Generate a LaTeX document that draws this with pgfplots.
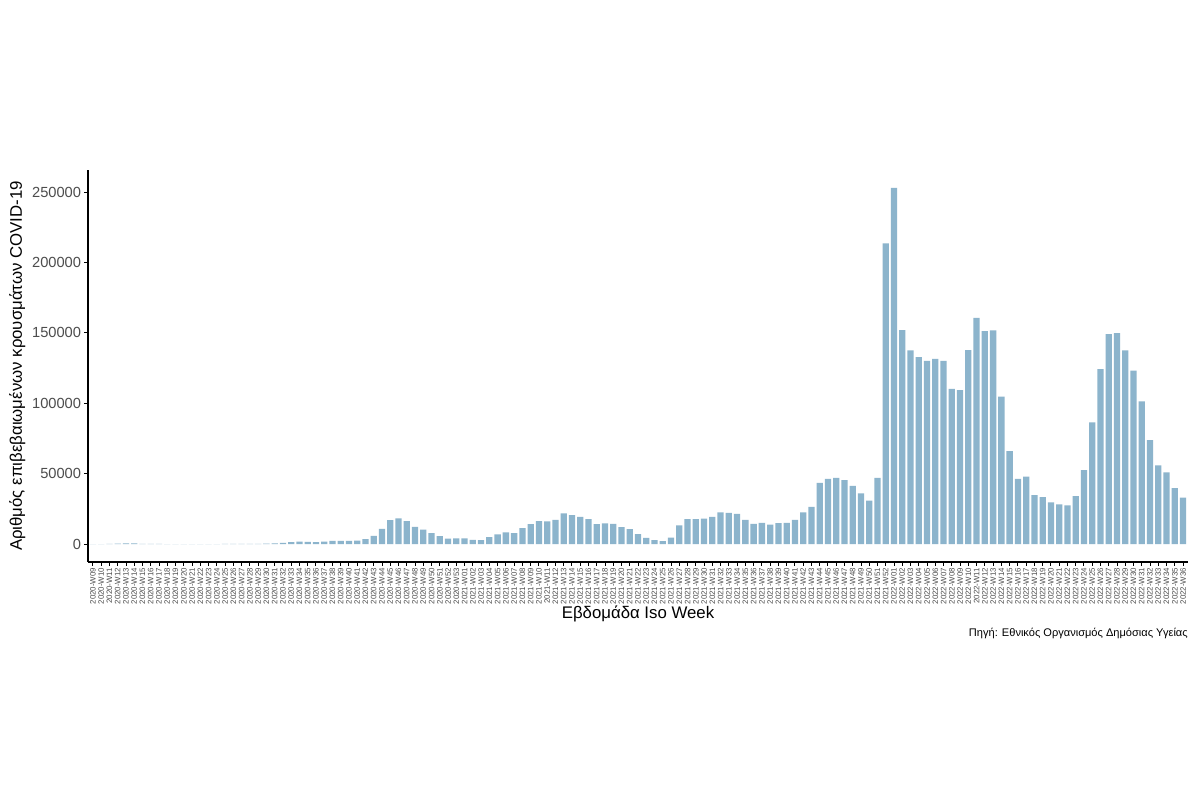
\documentclass[border=0pt]{standalone}
\usepackage{pgfplots}
\usepackage{pgfplotstable}
\pgfplotsset{compat=1.18}
\usepackage{fontspec}
\setmainfont{Liberation Sans}
\definecolor{barblue}{HTML}{8CB4CC}
\definecolor{ticklab}{HTML}{4D4D4D}
\pgfplotstableread{
week val
2020-W09 0
2020-W10 50
2020-W11 250
2020-W12 450
2020-W13 650
2020-W14 600
2020-W15 300
2020-W16 200
2020-W17 150
2020-W18 100
2020-W19 80
2020-W20 70
2020-W21 60
2020-W22 60
2020-W23 80
2020-W24 120
2020-W25 150
2020-W26 150
2020-W27 200
2020-W28 250
2020-W29 300
2020-W30 350
2020-W31 600
2020-W32 900
2020-W33 1500
2020-W34 1800
2020-W35 1600
2020-W36 1500
2020-W37 1800
2020-W38 2300
2020-W39 2400
2020-W40 2400
2020-W41 2500
2020-W42 3500
2020-W43 5900
2020-W44 10900
2020-W45 17000
2020-W46 18400
2020-W47 16400
2020-W48 12300
2020-W49 10300
2020-W50 7800
2020-W51 5700
2020-W52 3900
2020-W53 4200
2021-W01 4100
2021-W02 3100
2021-W03 2800
2021-W04 5000
2021-W05 6900
2021-W06 8300
2021-W07 7800
2021-W08 11400
2021-W09 14200
2021-W10 16300
2021-W11 16100
2021-W12 17300
2021-W13 21800
2021-W14 20600
2021-W15 19400
2021-W16 17800
2021-W17 14200
2021-W18 14700
2021-W19 14500
2021-W20 12100
2021-W21 10700
2021-W22 7100
2021-W23 4500
2021-W24 2800
2021-W25 2100
2021-W26 4700
2021-W27 13300
2021-W28 17800
2021-W29 17800
2021-W30 18200
2021-W31 19400
2021-W32 22500
2021-W33 22300
2021-W34 21600
2021-W35 17300
2021-W36 14500
2021-W37 15200
2021-W38 13800
2021-W39 14900
2021-W40 15200
2021-W41 17300
2021-W42 22500
2021-W43 26500
2021-W44 43600
2021-W45 46400
2021-W46 47100
2021-W47 45500
2021-W48 41400
2021-W49 36000
2021-W50 31000
2021-W51 47100
2021-W52 213500
2022-W01 253000
2022-W02 152000
2022-W03 137500
2022-W04 132800
2022-W05 130200
2022-W06 131600
2022-W07 130200
2022-W08 110300
2022-W09 109300
2022-W10 137700
2022-W11 160700
2022-W12 151200
2022-W13 151700
2022-W14 104800
2022-W15 66000
2022-W16 46400
2022-W17 48000
2022-W18 34800
2022-W19 33400
2022-W20 29600
2022-W21 28200
2022-W22 27500
2022-W23 34100
2022-W24 52500
2022-W25 86400
2022-W26 124200
2022-W27 149100
2022-W28 149800
2022-W29 137500
2022-W30 123300
2022-W31 101300
2022-W32 73800
2022-W33 55900
2022-W34 50900
2022-W35 39800
2022-W36 33100
}\data
\begin{document}
\begin{tikzpicture}
\path[use as bounding box, fill=white] (0pt,0pt) rectangle (900pt,607.5pt);
\begin{axis}[
  at={(66pt,186pt)}, anchor=south west,
  scale only axis, width=825pt, height=294pt,
  xmin=0.4, xmax=133.6, ymin=-12650, ymax=265650,
  axis x line*=bottom, axis y line*=left,
  axis line style={line width=0.9pt, black},
  xtick={1,...,133},
  xticklabels from table={\data}{week},
  x tick label style={rotate=90, anchor=east, font=\fontsize{5.9}{7}\selectfont, text=ticklab, inner sep=1.2pt},
  ytick={0,50000,100000,150000,200000,250000},
  yticklabels={0,50000,100000,150000,200000,250000},
  y tick label style={font=\fontsize{11}{12}\selectfont, text=ticklab, inner sep=2pt},
  scaled y ticks=false,
  tick style={black, line width=0.7pt},
  major tick length=3pt,
  tick align=outside,
  ybar, bar width=0.76,
  clip=false,
]
\addplot[fill=barblue, draw=none] table[x expr=\coordindex+1, y=val] {\data};
\end{axis}
\node[font=\fontsize{12.6}{14}\selectfont] at (478.5pt,147pt) {Εβδομάδα Iso Week};
\node[rotate=90, font=\fontsize{12.6}{14}\selectfont] at (13pt,333pt) {Αριθμός επιβεβαιωμένων κρουσμάτων COVID-19};
\node[anchor=east, font=\fontsize{8.3}{9}\selectfont, inner sep=0pt] at (891pt,132.75pt) {Πηγή: Εθνικός Οργανισμός Δημόσιας Υγείας};
\end{tikzpicture}
\end{document}
